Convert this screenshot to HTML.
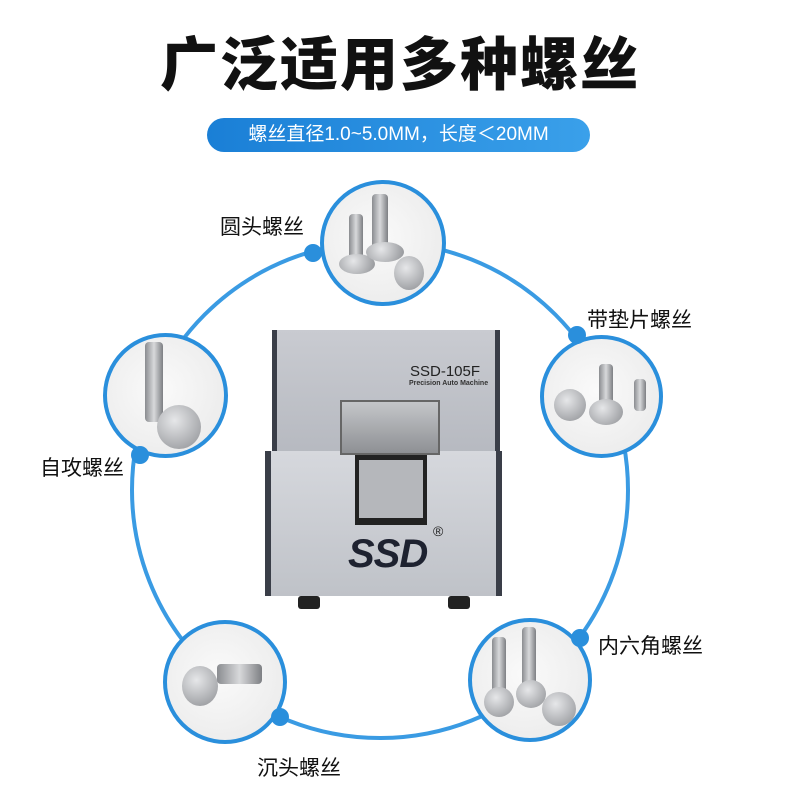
<!DOCTYPE html>
<html><head><meta charset="utf-8"><style>
body{margin:0;width:800px;height:800px;background:#fff;position:relative;overflow:hidden;font-family:"Liberation Sans","Noto Sans CJK SC",sans-serif}
.t{position:absolute;left:0;width:800px;text-align:center;top:18px;font-size:58px;font-weight:900;color:#111;letter-spacing:2px}
.pill{position:absolute;left:207px;top:118px;width:383px;height:34px;border-radius:17px;background:linear-gradient(90deg,#1a7fd6,#3aa0ea);color:#fff;font-size:19px;line-height:34px;text-align:center}
.lab{position:absolute;font-size:21px;color:#111}
.c{position:absolute;border:4px solid #2a8fdc;border-radius:50%;background:radial-gradient(circle at 45% 45%,#fafafa,#e8e8e8);box-sizing:border-box;overflow:hidden}
.d{position:absolute;width:18px;height:18px;border-radius:50%;background:#2a8fdc}
.s{position:absolute;background:linear-gradient(90deg,#8a8c90,#d8d9db,#7d7f83);border-radius:4px}
.h{position:absolute;border-radius:50%;background:radial-gradient(circle at 40% 35%,#e6e7e9,#8d8f93)}
</style></head><body>
<div class="t">广泛适用多种螺丝</div>
<div class="pill">螺丝直径1.0~5.0MM，长度＜20MM</div>
<svg width="800" height="800" style="position:absolute;left:0;top:0">
<circle cx="380" cy="490" r="248" fill="none" stroke="#3a9be3" stroke-width="4"/>
</svg>
<!-- machine -->
<div style="position:absolute;left:272px;top:330px;width:228px;height:125px;background:linear-gradient(180deg,#c9cbd1,#b6b9c0);border-left:5px solid #3a3e48;border-right:5px solid #3a3e48;box-sizing:border-box"></div>
<div style="position:absolute;left:410px;top:363px;font-size:15px;color:#222">SSD-105F</div>
<div style="position:absolute;left:409px;top:380px;font-size:7px;font-weight:bold;color:#333">Precision Auto Machine</div>
<div style="position:absolute;left:265px;top:451px;width:237px;height:145px;background:linear-gradient(180deg,#d6d8dd,#bfc2c8);border-left:6px solid #3a3e48;border-right:6px solid #3a3e48;box-sizing:border-box"></div>
<div style="position:absolute;left:355px;top:455px;width:72px;height:70px;background:#222"></div>
<div style="position:absolute;left:359px;top:460px;width:64px;height:58px;background:#b5b7bb"></div>
<div style="position:absolute;left:340px;top:400px;width:100px;height:55px;background:linear-gradient(180deg,#c4c6c9,#8e9094);border:2px solid #666;box-sizing:border-box"></div>
<div style="position:absolute;left:348px;top:532px;font-size:40px;font-weight:900;font-style:italic;color:#1e2230;letter-spacing:-1px">SSD</div>
<div style="position:absolute;left:433px;top:523px;font-size:14px;color:#222">®</div>
<div style="position:absolute;left:298px;top:596px;width:22px;height:13px;background:#222;border-radius:3px"></div>
<div style="position:absolute;left:448px;top:596px;width:22px;height:13px;background:#222;border-radius:3px"></div>
<!-- circles -->
<div class="c" style="left:320px;top:180px;width:126px;height:126px">
 <div class="s" style="left:48px;top:10px;width:16px;height:60px"></div>
 <div class="s" style="left:25px;top:30px;width:14px;height:48px"></div>
 <div class="h" style="left:15px;top:70px;width:36px;height:20px"></div>
 <div class="h" style="left:42px;top:58px;width:38px;height:20px"></div>
 <div class="h" style="left:70px;top:72px;width:30px;height:34px"></div>
</div>
<div class="c" style="left:103px;top:333px;width:125px;height:125px">
 <div class="s" style="left:38px;top:5px;width:18px;height:80px"></div>
 <div class="h" style="left:50px;top:68px;width:44px;height:44px"></div>
</div>
<div class="c" style="left:540px;top:335px;width:123px;height:123px">
 <div class="h" style="left:10px;top:50px;width:32px;height:32px"></div>
 <div class="s" style="left:55px;top:25px;width:14px;height:40px"></div>
 <div class="h" style="left:45px;top:60px;width:34px;height:26px"></div>
 <div class="s" style="left:90px;top:40px;width:12px;height:32px"></div>
</div>
<div class="c" style="left:163px;top:620px;width:124px;height:124px">
 <div class="h" style="left:15px;top:42px;width:36px;height:40px"></div>
 <div class="s" style="left:50px;top:40px;width:45px;height:20px"></div>
</div>
<div class="c" style="left:468px;top:618px;width:124px;height:124px">
 <div class="s" style="left:20px;top:15px;width:14px;height:60px"></div>
 <div class="s" style="left:50px;top:5px;width:14px;height:60px"></div>
 <div class="h" style="left:12px;top:65px;width:30px;height:30px"></div>
 <div class="h" style="left:44px;top:58px;width:30px;height:28px"></div>
 <div class="h" style="left:70px;top:70px;width:34px;height:34px"></div>
</div>
<div class="d" style="left:304px;top:244px"></div>
<div class="d" style="left:568px;top:326px"></div>
<div class="d" style="left:131px;top:446px"></div>
<div class="d" style="left:571px;top:629px"></div>
<div class="d" style="left:271px;top:708px"></div>
<div class="lab" style="left:220px;top:211px">圆头螺丝</div>
<div class="lab" style="left:587px;top:304px">带垫片螺丝</div>
<div class="lab" style="left:40px;top:452px">自攻螺丝</div>
<div class="lab" style="left:598px;top:630px">内六角螺丝</div>
<div class="lab" style="left:257px;top:752px">沉头螺丝</div>
</body></html>
